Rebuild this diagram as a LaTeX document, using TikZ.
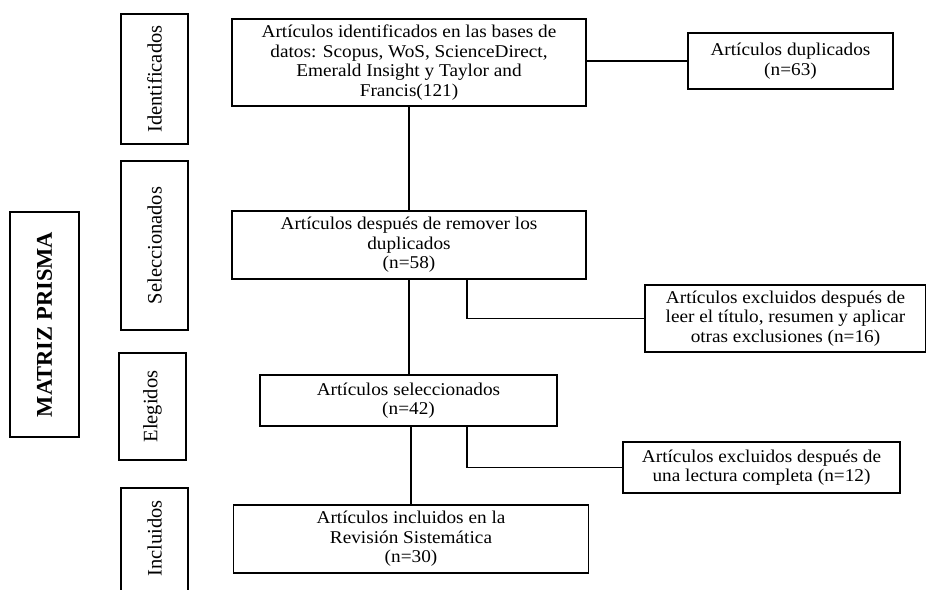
\documentclass[tikz,border=0pt]{standalone}
\usepackage{fontspec}
\setmainfont{Liberation Serif}
\newfontfamily\hfont{Liberation Serif}[FakeStretch=1.07]
\begin{document}
\begin{tikzpicture}[x=1pt,y=-1pt,
  line width=1.3pt,
  box/.style={draw, line width=1.3pt, align=center, inner sep=2pt,
    font=\hfont\fontsize{18}{19.5}\selectfont},
  lab/.style={draw, line width=1.3pt, rotate=90, inner sep=0pt,
    font=\fontsize{20.5}{22}\selectfont},
  labtext/.style={rotate=90, inner sep=0pt, font=\fontsize{20.5}{22}\selectfont},
  conn/.style={draw, line width=1.3pt}]
\useasboundingbox (0,0) rectangle (926,589);
\fill[white] (0,0) rectangle (926,589);

% left title
\node[lab, minimum width=225pt, minimum height=69pt,
  font=\bfseries\fontsize{22.5}{24}\selectfont] (matriz) at (44.5,324.5) {MATRIZ PRISMA};

% stage labels
\node[lab, minimum width=130pt, minimum height=67pt] (ident) at (154.5,79) {Identificados};
\node[lab, minimum width=169pt, minimum height=67pt] (selec) at (154.5,245.5) {Seleccionados};
\node[lab, minimum width=107pt, minimum height=67pt] (eleg) at (152.5,406.5) {Elegidos};
\node[lab, minimum width=116pt, minimum height=67pt] (inclbox) at (154.5,546) {};
\node[labtext] (incl) at (154.5,538.5) {Incluidos};

% main boxes
\node[box, minimum width=354pt, minimum height=87pt] (b1) at (409,62.5)
  {Artículos identificados en las bases de\\datos: Scopus, WoS, ScienceDirect,\\Emerald Insight y Taylor and\\Francis(121)};
\node[box, minimum width=205pt, minimum height=56pt] (dup) at (790.5,61)
  {Artículos duplicados\\(n=63)};
\node[box, minimum width=354pt, minimum height=68pt] (b2) at (409,245)
  {Artículos después de remover los\\duplicados\\(n=58)};
\node[box, minimum width=281pt, minimum height=67pt] (ex16) at (785.5,318.5)
  {Artículos excluidos después de\\leer el título, resumen y aplicar\\otras exclusiones (n=16)};
\node[box, minimum width=297pt, minimum height=51pt] (b3) at (408.5,400.5)
  {Artículos seleccionados\\(n=42)};
\node[box, minimum width=277pt, minimum height=51pt] (ex12) at (761.5,467.5)
  {Artículos excluidos después de\\una lectura completa (n=12)};
\node[box, minimum width=355pt, minimum height=68pt] (b4) at (411,539)
  {Artículos incluidos en la\\Revisión Sistemática\\(n=30)};

% connectors
\coordinate (b2x) at (467,279);
\coordinate (b3x) at (467,426);
\draw[conn] (dup.west) -- (dup.west -| b1.east);
\draw[conn] (b1.south) -- (b2.north);
\draw[conn] (b2.south) -- (b2.south |- b3.north);
\draw[conn] (b2x) |- (ex16.west);
\draw[conn] (b4.north) -- (b4.north |- b3.south);
\draw[conn] (b3x) |- (ex12.west);
\end{tikzpicture}
\end{document}
